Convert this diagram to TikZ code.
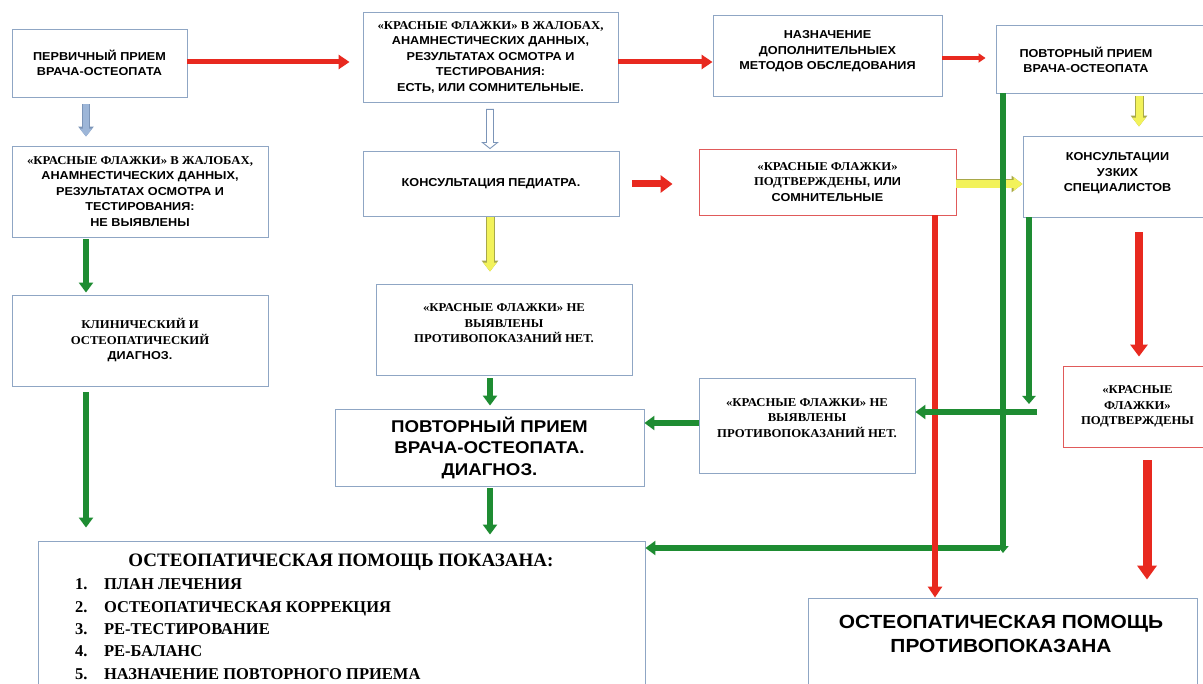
\documentclass[tikz,border=0pt]{standalone}
\usepackage{fontspec}
\setmainfont{Liberation Sans}
\newfontfamily\sansW{Liberation Sans}[FakeStretch=1.1]
\newfontfamily\serW{Liberation Serif}[FakeStretch=1.06]
\newfontfamily\serN{Liberation Serif}
\usetikzlibrary{arrows.meta,calc}
\definecolor{boxblue}{HTML}{8FA6C4}
\definecolor{boxred}{HTML}{E05A5A}
\definecolor{cred}{HTML}{E8291F}
\definecolor{cgreen}{HTML}{1E8C32}
\definecolor{cyel}{HTML}{F2F25A}
\definecolor{cyelb}{HTML}{A8A84A}
\definecolor{cblue}{HTML}{9DB6D8}
\definecolor{cblueb}{HTML}{7C95B8}
\newcommand\Sr[1]{{\serW\bfseries\fontsize{12}{15.5}\selectfont #1}}
\tikzset{
  txt/.style={font=\sansW\bfseries\fontsize{11.5}{15.5}\selectfont},
  sertxt/.style={font=\serW\bfseries\fontsize{12}{15.5}\selectfont},
  bigtxt/.style={font=\sansW\bfseries\fontsize{17}{21.5}\selectfont},
  box/.style={draw=boxblue, line width=0.9pt, fill=white, align=center, inner sep=0pt, txt},
  rbox/.style={box, draw=boxred},
  redA/.style={draw=cred, line width=5pt, -{Triangle[width=14pt,length=11pt]}},
  greenA/.style={draw=cgreen, line width=6pt, -{Triangle[width=14pt,length=10pt]}},
  yellowA/.style={draw=cyel, line width=7pt, -{Triangle[width=13pt,length=9pt]},
    preaction={draw=cyelb, line width=9pt, -{Triangle[width=16pt,length=11pt]}}},
  blueA/.style={draw=cblue, line width=6pt, -{Triangle[width=12pt,length=8pt]},
    preaction={draw=cblueb, line width=8pt, -{Triangle[width=15pt,length=10pt]}}},
  hollowblk/.style={draw=cblueb, fill=white, line width=0.9pt, line join=miter},
}
\begin{document}
\begin{tikzpicture}[x=1pt,y=-1pt]
\useasboundingbox (0,0) rectangle (1203,684);
\clip (0,0) rectangle (1203,684);
\fill[white] (0,0) rectangle (1203,684);

% boxes
\node[box, minimum width=175, minimum height=68] (A) at (99.5,63) {ПЕРВИЧНЫЙ ПРИЕМ\\ВРАЧА-ОСТЕОПАТА};
\node[box, minimum width=256, minimum height=91] (B) at (140,191.5) {\Sr{«КРАСНЫЕ ФЛАЖКИ» В ЖАЛОБАХ,}\\АНАМНЕСТИЧЕСКИХ ДАННЫХ,\\РЕЗУЛЬТАТАХ ОСМОТРА И\\ТЕСТИРОВАНИЯ:\\НЕ ВЫЯВЛЕНЫ};
\node[box, minimum width=256, minimum height=91] (C) at (140,340.5) {\Sr{КЛИНИЧЕСКИЙ И}\\\Sr{ОСТЕОПАТИЧЕСКИЙ}\\ДИАГНОЗ.};
\node[box, minimum width=255, minimum height=90] (D) at (490.5,57) {\Sr{«КРАСНЫЕ ФЛАЖКИ» В ЖАЛОБАХ,}\\АНАМНЕСТИЧЕСКИХ ДАННЫХ,\\РЕЗУЛЬТАТАХ ОСМОТРА И\\ТЕСТИРОВАНИЯ:\\ЕСТЬ, ИЛИ СОМНИТЕЛЬНЫЕ.};
\node[box, minimum width=256, minimum height=65] (E) at (491,183.5) {КОНСУЛЬТАЦИЯ ПЕДИАТРА.};
\node[box, text depth=11pt, minimum width=229, minimum height=81] (F) at (827.5,55.5) {НАЗНАЧЕНИЕ\\ДОПОЛНИТЕЛЬНЫЕХ\\МЕТОДОВ ОБСЛЕДОВАНИЯ};
\node[box, minimum width=214, minimum height=68] (G) at (1103,59) {};
\node[txt, align=center] (Gt) at (1086,60) {ПОВТОРНЫЙ ПРИЕМ\\ВРАЧА-ОСТЕОПАТА};
\node[rbox, minimum width=257, minimum height=66] (H) at (827.5,182) {\Sr{«КРАСНЫЕ ФЛАЖКИ»}\\\Sr{ПОДТВЕРЖДЕНЫ}, ИЛИ\\СОМНИТЕЛЬНЫЕ};
\node[box, text depth=9pt, minimum width=189, minimum height=81] (I) at (1117.5,176.5) {КОНСУЛЬТАЦИИ\\УЗКИХ\\СПЕЦИАЛИСТОВ};
\node[box, sertxt, text depth=12pt, minimum width=256, minimum height=91] (J) at (504,329.5) {«КРАСНЫЕ ФЛАЖКИ» НЕ\\ВЫЯВЛЕНЫ\\ПРОТИВОПОКАЗАНИЙ НЕТ.};
\node[box, bigtxt, minimum width=309, minimum height=77] (K) at (489.5,447.5) {ПОВТОРНЫЙ ПРИЕМ\\ВРАЧА-ОСТЕОПАТА.\\ДИАГНОЗ.};
\node[box, sertxt, text depth=15pt, minimum width=216, minimum height=95] (L) at (807,425.5) {«КРАСНЫЕ ФЛАЖКИ» НЕ\\ВЫЯВЛЕНЫ\\ПРОТИВОПОКАЗАНИЙ НЕТ.};
\node[rbox, sertxt, minimum width=149, minimum height=81] (M) at (1137.5,406.5) {«КРАСНЫЕ\\ФЛАЖКИ»\\ПОДТВЕРЖДЕНЫ};
\node[box, minimum width=607, minimum height=149] (N) at (341.5,615.5) {};
\node[font=\serN\bfseries\fontsize{19}{22}\selectfont] (Nt) at (341,562) {ОСТЕОПАТИЧЕСКАЯ ПОМОЩЬ ПОКАЗАНА:};
\node[font=\serN\bfseries\fontsize{16.5}{22.3}\selectfont, anchor=north west, inner sep=0pt] (Nl) at (75,574)
  {\begin{tabular}{@{}l@{\hspace{16.5pt}}l@{}}
   1. & ПЛАН ЛЕЧЕНИЯ\\
   2. & ОСТЕОПАТИЧЕСКАЯ КОРРЕКЦИЯ\\
   3. & РЕ-ТЕСТИРОВАНИЕ\\
   4. & РЕ-БАЛАНС\\
   5. & НАЗНАЧЕНИЕ ПОВТОРНОГО ПРИЕМА
   \end{tabular}};
\node[box, minimum width=389, minimum height=90] (O) at (1002.5,643) {};
\node[font=\sansW\bfseries\fontsize{19}{23.5}\selectfont, align=center] (Ot) at (1001,634) {ОСТЕОПАТИЧЕСКАЯ ПОМОЩЬ\\ПРОТИВОПОКАЗАНА};

% connectors
\coordinate (gc) at (1003,553);
\coordinate (gh) at (1000,548);
\coordinate (ic) at (1029,404);
\coordinate (ih) at (1037,412);

\draw[yellowA, line width=8pt] (H.east |- 0,184) -- (I.west |- 0,184);
\draw[greenA, -{Triangle[width=11pt,length=7pt]}] (G.south -| 1003,0) -- (gc);
\draw[greenA] (gh) -- (N.east |- 0,548);
\draw[redA, line width=6pt] (H.south -| 935,0) -- (O.north -| 935,0);
\draw[greenA, -{Triangle[width=13pt,length=8pt]}] (I.south -| 1029,0) -- (ic);
\draw[greenA] (ih) -- (L.east |- 0,412);

\draw[redA, shorten >=13pt] (A.east |- 0,62) -- (D.west |- 0,62);
\draw[redA] (D.east |- 0,62) -- (F.west |- 0,62);
\draw[redA, line width=3.5pt, -{Triangle[width=9pt,length=7pt]}, shorten >=10pt] (F.east |- 0,58) -- (G.west |- 0,58);
\draw[blueA, shorten <=7pt, shorten >=9pt] (A.south -| 86,0) -- (B.north -| 86,0);
\draw[greenA, shorten <=2pt, shorten >=2pt] (B.south -| 86,0) -- (C.north -| 86,0);
\draw[greenA, shorten <=6pt, shorten >=13pt] (C.south -| 86,0) -- (N.north -| 86,0);
\draw[hollowblk] let \p1=(D.south -| 490,0), \p2=(E.north -| 490,0) in
  (\x1-3.5pt,\y1-7pt) -- (\x1-3.5pt,\y2+8pt) -- (\x1-7.5pt,\y2+8pt) -- (\x1,\y2+2pt)
  -- (\x1+7.5pt,\y2+8pt) -- (\x1+3.5pt,\y2+8pt) -- (\x1+3.5pt,\y1-7pt) -- cycle;
\draw[yellowA, shorten <=1pt, shorten >=12pt] (E.south -| 490,0) -- (J.north -| 490,0);
\draw[redA, line width=7pt, -{Triangle[width=17pt,length=12pt]}, shorten <=13pt, shorten >=26pt] (E.east |- 0,184) -- (H.west |- 0,184);
\draw[yellowA, shorten <=3pt, shorten >=9pt] (G.south -| 1139,0) -- (I.north -| 1139,0);
\draw[redA, line width=8pt, -{Triangle[width=17pt,length=12pt]}, shorten <=15pt, shorten >=9pt] (I.south -| 1139,0) -- (M.north -| 1139,0);
\draw[redA, line width=9pt, -{Triangle[width=19pt,length=14pt]}, shorten <=13pt, shorten >=18pt] (M.south -| 1147,0) -- (O.north -| 1147,0);
\draw[greenA, shorten <=3pt, shorten >=3pt] (J.south -| 490,0) -- (K.north -| 490,0);
\draw[greenA, shorten <=2pt, shorten >=6pt] (K.south -| 490,0) -- (N.north -| 490,0);
\draw[greenA] (L.west |- 0,423) -- (K.east |- 0,423);
\end{tikzpicture}
\end{document}
